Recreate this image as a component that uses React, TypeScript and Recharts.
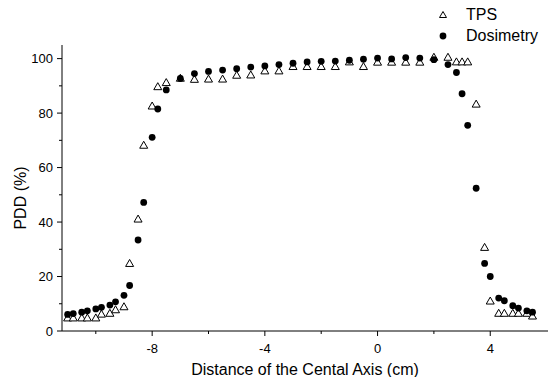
import { ScatterChart, Scatter, XAxis, YAxis } from "recharts";

// distance from the central axis (cm)
const distances = [
  -11, -10.8, -10.5, -10.3, -10, -9.8, -9.5, -9.3, -9, -8.8, -8.5, -8.3, -8, -7.8, -7.5,
  -7, -6.5, -6, -5.5, -5, -4.5, -4, -3.5, -3, -2.5, -2, -1.5, -1, -0.5, 0, 0.5, 1, 1.5, 2,
  2.5, 2.8, 3, 3.2, 3.5, 3.8, 4, 4.3, 4.5, 4.8, 5, 5.3, 5.5,
];

const tpsValues = [
  4.8, 4.8, 4.8, 4.8, 4.8, 6.2, 6.5, 7.8, 8.9, 24.8, 41.1, 68.2, 82.6, 89.7, 91.2,
  92.8, 92.4, 92.5, 92.5, 93.9, 94.0, 95.5, 95.5, 97.1, 97.1, 97.1, 97.1, 98.8, 97.1, 98.7,
  98.7, 98.7, 98.7, 100.5, 100.5, 98.8, 98.8, 98.8, 83.3, 30.7, 11.0, 6.5, 6.5, 6.5, 6.5,
  6.5, 5.5,
];

const dosimetryValues = [
  6.1, 6.4, 6.9, 7.4, 8.1, 8.7, 9.5, 10.7, 13.1, 16.7, 33.4, 47.2, 71.1, 81.5, 88.5,
  92.7, 94.5, 95.3, 95.8, 96.3, 96.9, 97.3, 97.8, 98.3, 98.8, 99.0, 99.1, 99.4, 99.8, 100.2,
  99.9, 100.4, 100.2, 99.6, 97.8, 94.9, 87.1, 75.5, 52.4, 24.8, 20.0, 12.1, 11.1, 9.3, 8.4,
  7.4, 6.9,
];

const seriesNames = ["TPS", "Dosimetry"];

const xTicks = [-10, -8, -6, -4, -2, 0, 2, 4];
const xMajor = [-8, -4, 0, 4];
const yTicks = [0, 10, 20, 30, 40, 50, 60, 70, 80, 90, 100];
const yMajor = [0, 20, 40, 60, 80, 100];

const tpsData = distances.map((x, i) => ({ x, y: tpsValues[i] }));
const dosData = distances.map((x, i) => ({ x, y: dosimetryValues[i] }));

const FONT = '"Liberation Sans", Arial, sans-serif';
const TICK_SIZE = 5;
const TICK_MARGIN = 7;

const Triangle = (props: any) => {
  const { cx, cy } = props;
  return (
    <path
      d={`M${cx},${cy - 4} L${cx - 4},${cy + 3} L${cx + 4},${cy + 3} Z`}
      fill="#fff"
      stroke="#000"
      strokeWidth={1}
    />
  );
};

const Dot = (props: any) => {
  const { cx, cy } = props;
  return <circle cx={cx} cy={cy} r={3.4} fill="#000" />;
};

const XTick = (props: any) => {
  const { x, y, payload } = props;
  const major = xMajor.includes(payload.value);
  const axisY = y - TICK_SIZE - TICK_MARGIN;
  return (
    <g>
      <line x1={x} x2={x} y1={axisY} y2={axisY + (major ? 5 : 3)} stroke="#000" />
      {major && (
        <text x={x} y={axisY + 22} textAnchor="middle" fontSize={13} fontFamily={FONT} fill="#000">
          {payload.value}
        </text>
      )}
    </g>
  );
};

const YTick = (props: any) => {
  const { x, y, payload } = props;
  const major = yMajor.includes(payload.value);
  const axisX = x + TICK_SIZE + 4;
  return (
    <g>
      <line x1={axisX} x2={axisX - (major ? 5 : 3)} y1={y} y2={y} stroke="#000" />
      {major && (
        <text x={axisX - 9} y={y + 4.6} textAnchor="end" fontSize={13} fontFamily={FONT} fill="#000">
          {payload.value}
        </text>
      )}
    </g>
  );
};

export default function App() {
  return (
    <div style={{ position: "absolute", left: 0, top: 0, width: 548, height: 377, background: "#fff" }}>
      <ScatterChart width={548} height={377} margin={{ top: 45, right: 0, bottom: 0, left: 0 }}>
        <XAxis
          type="number"
          dataKey="x"
          domain={[-11.2, 6.05]}
          ticks={xTicks}
          allowDataOverflow
          height={46}
          stroke="#000"
          tickLine={false}
          tickSize={TICK_SIZE}
          tickMargin={TICK_MARGIN}
          tick={<XTick />}
          label={{
            content: (p: any) => {
              const vb = p.viewBox;
              return (
                <text x={vb.x + vb.width / 2} y={369 + 5.5} textAnchor="middle" fontSize={16} fontFamily={FONT} fill="#000">
                  Distance of the Cental Axis (cm)
                </text>
              );
            },
          }}
        />
        <YAxis
          type="number"
          dataKey="y"
          domain={[0, 105]}
          ticks={yTicks}
          width={62}
          stroke="#000"
          tickLine={false}
          tickSize={TICK_SIZE}
          tickMargin={4}
          tick={<YTick />}
          label={{
            content: () => (
              <text
                x={20}
                y={198}
                transform="rotate(-90 20 198)"
                textAnchor="middle"
                dominantBaseline="central"
                fontSize={16}
                fontFamily={FONT}
                fill="#000"
              >
                PDD (%)
              </text>
            ),
          }}
        />
        <Scatter name={seriesNames[0]} data={tpsData} shape={<Triangle />} isAnimationActive={false} />
        <Scatter name={seriesNames[1]} data={dosData} shape={<Dot />} isAnimationActive={false} />
      </ScatterChart>
      <div style={{ position: "absolute", left: 437, top: 5, fontFamily: FONT, fontSize: 16, color: "#000" }}>
        {seriesNames.map((name, i) => (
          <div key={name} style={{ display: "flex", alignItems: "center", height: 20.5 }}>
            <svg width={12} height={12} style={{ marginRight: 17 }}>
              {i === 0 ? (
                <path d="M6,2.5 L2.5,8.5 L9.5,8.5 Z" fill="#fff" stroke="#000" />
              ) : (
                <circle cx={6} cy={6} r={3.4} fill="#000" />
              )}
            </svg>
            <span>{name}</span>
          </div>
        ))}
      </div>
    </div>
  );
}
